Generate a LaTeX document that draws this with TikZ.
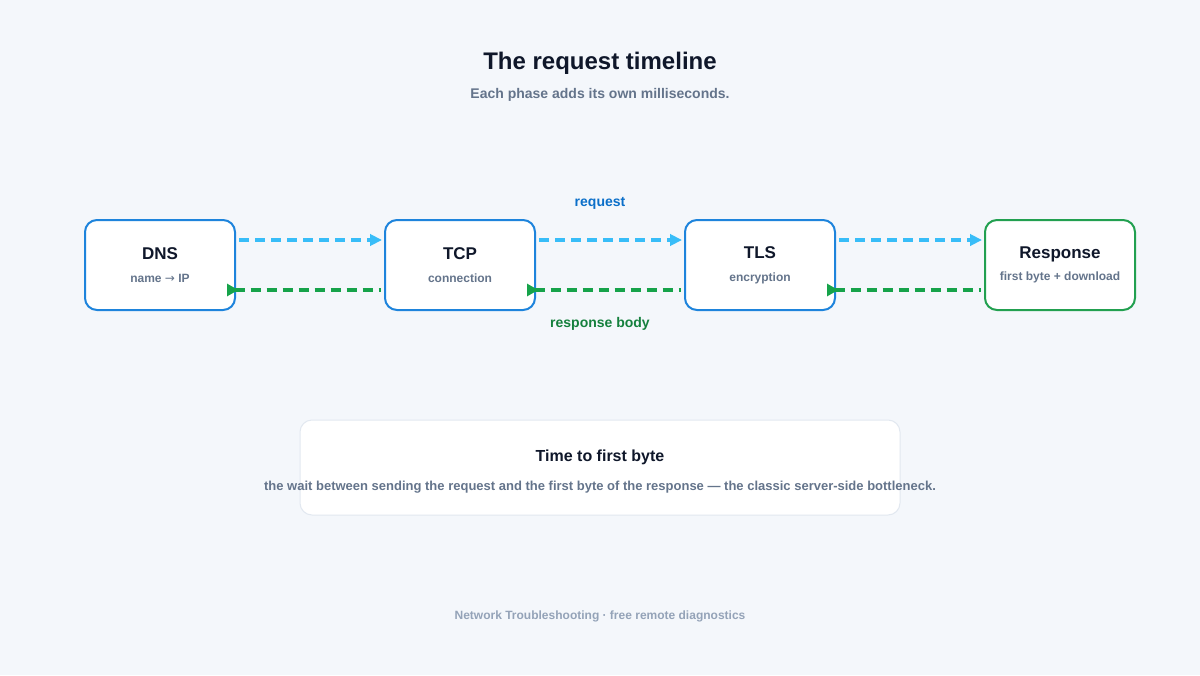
\documentclass[tikz,border=0pt]{standalone}
\usepackage{fontspec}
\setmainfont{Liberation Sans}
\newfontfamily\arrowfont{DejaVu Sans}
\usepackage{tikz}
\usetikzlibrary{calc, arrows.meta}
\definecolor{bgpage}{HTML}{F4F7FB}
\definecolor{ink}{HTML}{0F172A}
\definecolor{muted}{HTML}{64748B}
\definecolor{faint}{HTML}{94A3B8}
\definecolor{phaseblue}{HTML}{1E84DC}
\definecolor{donegreen}{HTML}{22A050}
\definecolor{reqcyan}{HTML}{38BDF8}
\definecolor{respgreen}{HTML}{16A34A}
\definecolor{reqlabel}{HTML}{0B6FC9}
\definecolor{resplabel}{HTML}{15803D}
\definecolor{cardline}{HTML}{E2E8F0}
\tikzstyle{phase} = [rectangle, rounded corners=9pt, draw=phaseblue, line width=1.5pt, fill=white, minimum width=112.5pt, minimum height=67.5pt, align=center, font=\bfseries\fontsize{12.75}{15}\selectfont, text=ink]
\tikzstyle{lastphase} = [phase, draw=donegreen]
\tikzstyle{request} = [draw=reqcyan, line width=2.6pt, dash pattern=on 7.5pt off 4.5pt, -{Triangle[length=9pt,width=8.5pt]}]
\tikzstyle{response} = [draw=respgreen, line width=2.6pt, dash pattern=on 7.5pt off 4.5pt, {Triangle[reversed,length=8.5pt,width=9pt]}-]
\tikzstyle{arrowlabel} = [font=\bfseries\fontsize{10.5}{13}\selectfont]
\newcommand{\phasesub}[1]{\\[2pt]{\color{muted}\fontsize{9}{11}\selectfont #1}}

\begin{document}
\begin{tikzpicture}[x=0.75pt, y=-0.75pt]

        \fill[bgpage] (0,0) rectangle (1200,675);
        \useasboundingbox (0,0) rectangle (1200,675);

        \node (title) [font=\bfseries\fontsize{18}{21}\selectfont, text=ink] at (600,63.5) {The request timeline};
        \node (subtitle) [font=\bfseries\fontsize{10.5}{13}\selectfont, text=muted] at (600,94.5) {Each phase adds its own milliseconds.};

        \node (dns) [phase] at (160,265) {DNS\phasesub{name {\arrowfont\mdseries →} IP}};
        \node (tcp) [phase] at (460,265) {TCP\phasesub{connection}};
        \node (tls) [phase] at (760,265) {TLS\phasesub{encryption}};
        \node (resp) [lastphase] at (1060,265) {Response\phasesub{first byte + download}};

        \draw[request] ($(dns.east)+(3,-25)$) -- ($(tcp.west)+(-2,-25)$);
        \draw[request] ($(tcp.east)+(3,-25)$) -- ($(tls.west)+(-2,-25)$);
        \draw[request] ($(tls.east)+(3,-25)$) -- ($(resp.west)+(-2,-25)$);

        \draw[response] ($(dns.east)+(-9,25)$) -- ($(tcp.west)+(-3,25)$);
        \draw[response] ($(tcp.east)+(-9,25)$) -- ($(tls.west)+(-3,25)$);
        \draw[response] ($(tls.east)+(-9,25)$) -- ($(resp.west)+(-3,25)$);

        \node (reqtext) [arrowlabel, text=reqlabel] at (600,203.5) {request};
        \node (resptext) [arrowlabel, text=resplabel] at (600,323.5) {response body};

        \node (ttfb) [rectangle, rounded corners=9pt, draw=cardline, line width=0.75pt, fill=white, minimum width=450pt, minimum height=71.25pt] at (600,467.5) {};
        \node (ttfbtitle) [font=\bfseries\fontsize{12}{14}\selectfont, text=ink] at (600,457) {Time to first byte};
        \node (ttfbtext) [font=\bfseries\fontsize{9.75}{12}\selectfont, text=muted] at (600,487.5) {the wait between sending the request and the first byte of the response — the classic server-side bottleneck.};

        \node (footer) [font=\bfseries\fontsize{9}{11}\selectfont, text=faint] at (600,616) {Network Troubleshooting · free remote diagnostics};

    \end{tikzpicture}
\end{document}
